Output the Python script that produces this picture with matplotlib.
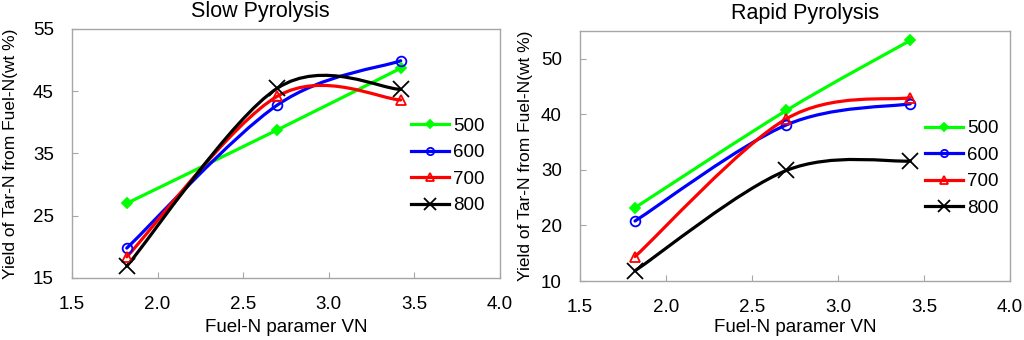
import numpy as np
import matplotlib
matplotlib.use('Agg')
import matplotlib.pyplot as plt
from matplotlib.path import Path
from matplotlib.patches import PathPatch
from matplotlib.lines import Line2D

plt.rcParams['font.family'] = ['Liberation Sans', 'DejaVu Sans']

vn = [1.82, 2.70, 3.42]
temps = ['500', '600', '700', '800']

slow_500 = [27.0, 38.8, 48.7]
slow_600 = [19.8, 42.8, 49.9]
slow_700 = [18.4, 44.2, 43.6]
slow_800 = [16.9, 45.5, 45.3]

rapid_500 = [23.2, 40.7, 53.3]
rapid_600 = [20.8, 38.1, 41.9]
rapid_700 = [14.4, 39.2, 43.0]
rapid_800 = [11.85, 29.9, 31.6]

colors = ['#00ff00', '#0000ff', '#ff0000', '#000000']
markers = ['D', 'o', '^', 'x']
msizes = [5, 7, 7, 12]
mfaces = ['#00ff00', 'none', 'none', 'none']

gray = '#a6a6a6'


def smooth_path(x, y):
    # excel-style smoothed line: bezier segments, catmull-rom control points
    pts = np.column_stack([x, y]).astype(float)
    n = len(pts)
    verts = [pts[0]]
    codes = [Path.MOVETO]
    for i in range(n - 1):
        p_prev = pts[max(i - 1, 0)]
        p0 = pts[i]
        p1 = pts[i + 1]
        p_next = pts[min(i + 2, n - 1)]
        c1 = p0 + (p1 - p_prev) / 6.0
        c2 = p1 - (p_next - p0) / 6.0
        verts += [c1, c2, p1]
        codes += [Path.CURVE4] * 3
    return Path(verts, codes)


def draw_panel(ax, series, title, ylim, yticks, title_x, ylab_x, xlab_y, leg_x):
    for vals, c, m, ms, mf in zip(series, colors, markers, msizes, mfaces):
        ax.add_patch(PathPatch(smooth_path(vn, vals), fill=False, edgecolor=c,
                               lw=2.3, zorder=2, capstyle='round', joinstyle='round'))
        ax.plot(vn, vals, ls='none', marker=m, ms=ms, mfc=mf, mec=c, mew=1.3, zorder=3)

    ax.set_xlim(1.5, 4.0)
    ax.set_xticks([1.5, 2.0, 2.5, 3.0, 3.5, 4.0])
    ax.set_xticklabels(['1.5', '2.0', '2.5', '3.0', '3.5', '4.0'])
    ax.set_ylim(*ylim)
    ax.set_yticks(yticks)
    for s in ax.spines.values():
        s.set_color(gray)
        s.set_linewidth(1.0)
    ax.tick_params(direction='in', length=4, color=gray, labelsize=13.5)
    ax.tick_params(axis='x', pad=13)
    ax.tick_params(axis='y', pad=13)
    ax.set_xlabel('Fuel-N paramer VN', fontsize=13.5)
    ax.xaxis.set_label_coords(0.5, xlab_y)
    ax.set_ylabel('Yield of Tar-N from Fuel-N(wt %)', fontsize=12.5)
    ax.yaxis.set_label_coords(ylab_x, 0.5)
    ax.text(title_x, 1.028, title, transform=ax.transAxes, ha='center', va='bottom', fontsize=15.5)

    handles = [Line2D([], [], color=c, lw=2.3, marker=m, ms=ms * 0.75, mfc=mf, mec=c, mew=1.3)
               for c, m, ms, mf in zip(colors, markers, msizes, mfaces)]
    ax.legend(handles, temps, loc='center left', bbox_to_anchor=(leg_x, 0.45), frameon=False,
              fontsize=13.5, handlelength=2.0, handletextpad=0.25, labelspacing=0.5,
              borderaxespad=0)


fig = plt.figure(figsize=(10.24, 3.4), dpi=100)
ax1 = fig.add_axes([72 / 1024, 1 - 278 / 340, 428 / 1024, 249 / 340])
ax2 = fig.add_axes([580 / 1024, 1 - 281 / 340, 430 / 1024, 250 / 340])

draw_panel(ax1, [slow_500, slow_600, slow_700, slow_800], 'Slow Pyrolysis',
           (15, 55), [15, 25, 35, 45, 55], 0.44, -0.125, -0.165, 0.775)
draw_panel(ax2, [rapid_500, rapid_600, rapid_700, rapid_800], 'Rapid Pyrolysis',
           (10, 55), [10, 20, 30, 40, 50], 0.523, -0.11, -0.152, 0.785)

fig.savefig('out.png', dpi=100)
